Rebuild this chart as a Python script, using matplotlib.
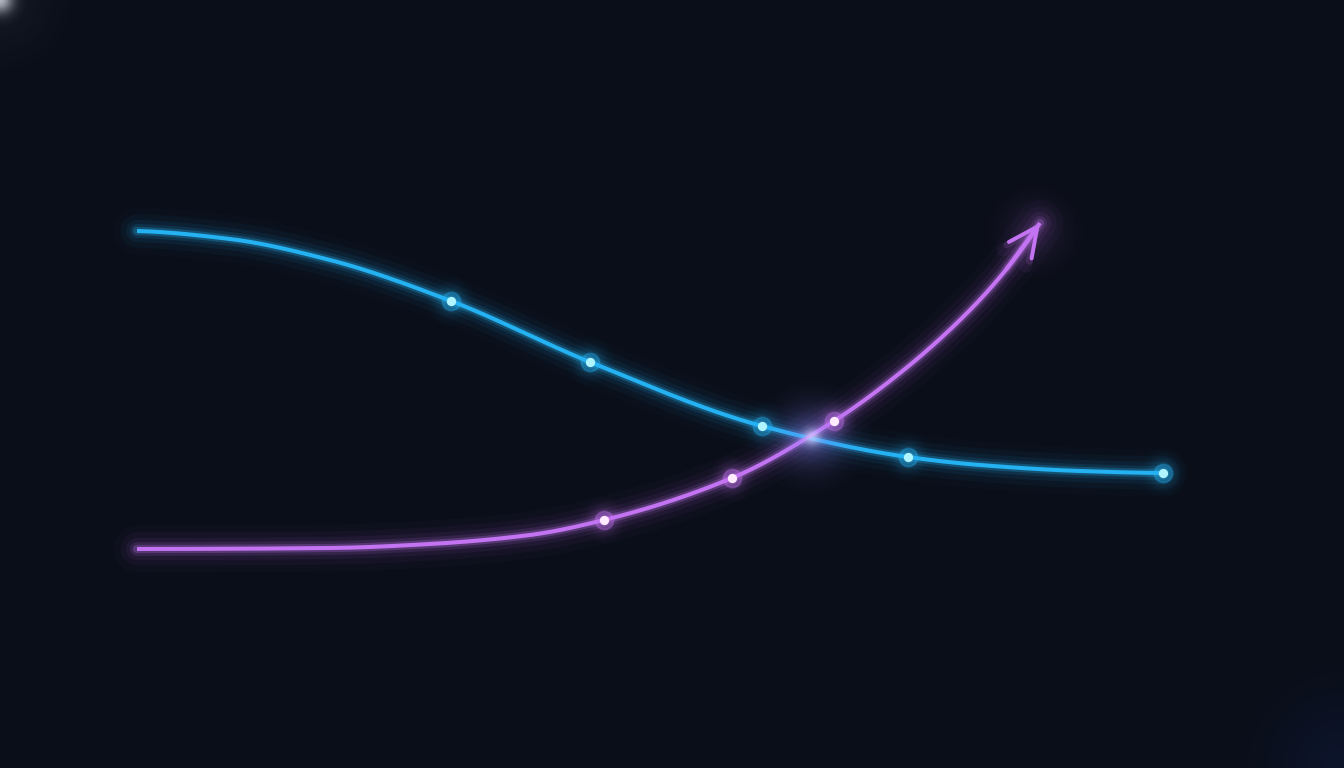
import numpy as np
import matplotlib
matplotlib.use("Agg")
import matplotlib.pyplot as plt
from matplotlib.colors import to_rgb

# ---- data (in canvas units: x to the right, y downward) ----
blue_x = [137, 230, 330, 451, 590, 762, 908, 980, 1080, 1163]
blue_y = [231, 239, 260, 301, 362, 426, 457, 465, 471, 473]
blue_marker_x = [451, 590, 762, 908, 1163]
blue_marker_y = [301, 362, 426, 457, 473]

purple_x = [137, 330, 430, 530, 604, 732, 834, 900, 960, 1000, 1040]
purple_y = [549, 548, 544, 535, 520, 478, 421, 373, 320, 277, 223]
purple_marker_x = [604, 732, 834]
purple_marker_y = [520, 478, 421]

BG = "#0a0e18"
BLUE = "#25b2f3"
BLUE_LIGHT = "#b0f4ff"
PURPLE = "#c474f2"
PURPLE_LIGHT = "#ffeaff"


def pchip(xs, ys, n=800):
    x = np.asarray(xs, float)
    y = np.asarray(ys, float)
    h = np.diff(x)
    d = np.diff(y) / h
    m = np.zeros_like(x)
    for k in range(1, len(x) - 1):
        if d[k - 1] * d[k] <= 0:
            m[k] = 0
        else:
            w1 = 2 * h[k] + h[k - 1]
            w2 = h[k] + 2 * h[k - 1]
            m[k] = (w1 + w2) / (w1 / d[k - 1] + w2 / d[k])
    def end(h0, h1, d0, d1):
        v = ((2 * h0 + h1) * d0 - h0 * d1) / (h0 + h1)
        if np.sign(v) != np.sign(d0):
            v = 0
        elif np.sign(d0) != np.sign(d1) and abs(v) > abs(3 * d0):
            v = 3 * d0
        return v
    m[0] = end(h[0], h[1], d[0], d[1])
    m[-1] = end(h[-1], h[-2], d[-1], d[-2])
    xx = np.linspace(x[0], x[-1], n)
    idx = np.clip(np.searchsorted(x, xx) - 1, 0, len(x) - 2)
    t = (xx - x[idx]) / h[idx]
    h00 = 2 * t ** 3 - 3 * t ** 2 + 1
    h10 = t ** 3 - 2 * t ** 2 + t
    h01 = -2 * t ** 3 + 3 * t ** 2
    h11 = t ** 3 - t ** 2
    yy = h00 * y[idx] + h10 * h[idx] * m[idx] + h01 * y[idx + 1] + h11 * h[idx] * m[idx + 1]
    return xx, yy


fig = plt.figure(figsize=(13.44, 7.68), dpi=100, facecolor=BG)
ax = fig.add_axes([0, 0, 1, 1])
ax.set_facecolor(BG)
ax.set_xlim(0, 1344)
ax.set_ylim(768, 0)
ax.axis("off")


def soft_glow(cx, cy, radius, color, peak, z=1):
    gx = np.linspace(cx - 3 * radius, cx + 3 * radius, 200)
    gy = np.linspace(cy - 3 * radius, cy + 3 * radius, 200)
    X, Y = np.meshgrid(gx, gy)
    A = peak * np.exp(-((X - cx) ** 2 + (Y - cy) ** 2) / (2 * radius ** 2))
    img = np.zeros((200, 200, 4))
    img[..., :3] = to_rgb(color)
    img[..., 3] = A
    ax.imshow(img, extent=(gx[0], gx[-1], gy[-1], gy[0]), origin="upper",
              interpolation="bilinear", zorder=z, aspect="auto")


# corner glare and faint bluish tint bottom-right
soft_glow(0, 0, 9, "#e8eef8", 0.75)
soft_glow(0, 0, 35, "#b0c0d8", 0.06)
soft_glow(1344, 768, 50, "#1a3a9a", 0.15)

glow_layers = [(34, 0.025), (24, 0.04), (16, 0.07), (10, 0.12), (6, 0.25)]

# blue curve
bx, by = pchip(blue_x, blue_y)
for w, a in glow_layers:
    ax.plot(bx, by, color=BLUE, lw=w, alpha=a, solid_capstyle="round", zorder=2)
ax.plot(bx, by, color=BLUE, lw=2.9, solid_capstyle="butt", zorder=3)

# purple curve
px, py = pchip(purple_x, purple_y)
for w, a in glow_layers:
    ax.plot(px, py, color=PURPLE, lw=w, alpha=a, solid_capstyle="round", zorder=2)
ax.plot(px, py, color=PURPLE, lw=2.9, solid_capstyle="butt", zorder=3)

# arrow head at the end of the purple curve
tip = (px[-1], py[-1])
prev = (px[-30], py[-30])
style = "->,head_length=1.0,head_width=0.48"
for w, a in [(9, 0.06), (5, 0.15)]:
    ax.annotate("", xy=tip, xytext=prev,
                arrowprops=dict(arrowstyle=style, color=PURPLE, lw=w, alpha=a,
                                mutation_scale=21, shrinkA=0, shrinkB=0,
                                capstyle="round", joinstyle="round"), zorder=2)
ax.annotate("", xy=tip, xytext=prev,
            arrowprops=dict(arrowstyle=style, color=PURPLE, lw=2.8, mutation_scale=21,
                            shrinkA=0, shrinkB=0), zorder=3)
soft_glow(1035, 232, 22, PURPLE, 0.12, z=2)

# glow where the lines cross
soft_glow(812, 437, 22, "#8f86ff", 0.35, z=4)
soft_glow(812, 437, 6, "#e0e0ff", 0.6, z=4)

# markers
def draw_markers(xs, ys, col, light):
    for x, y in zip(xs, ys):
        soft_glow(x, y, 9, col, 0.35, z=5)
    ax.scatter(xs, ys, s=170, facecolor=col, alpha=0.3, edgecolor=col, lw=1.3, zorder=6)
    ax.scatter(xs, ys, s=45, color=light, lw=0, zorder=7)

draw_markers(blue_marker_x, blue_marker_y, BLUE, BLUE_LIGHT)
draw_markers(purple_marker_x, purple_marker_y, PURPLE, PURPLE_LIGHT)

fig.savefig("out.png", dpi=100, facecolor=BG)
